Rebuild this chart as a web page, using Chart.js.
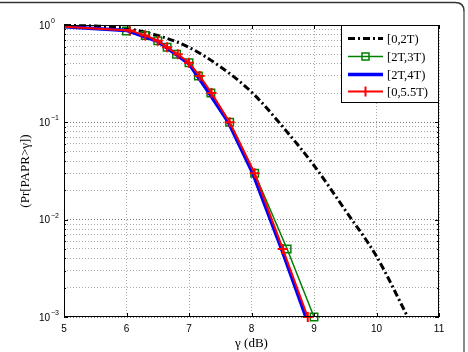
<!DOCTYPE html>
<html lang="en">
<head>
    <meta charset="UTF-8">
    <title>PAPR CCDF</title>
    <script src="https://cdn.jsdelivr.net/npm/chart.js"></script>
    <style>
        body { margin: 0; padding: 0; background: #fff; overflow: hidden; }
        .wrap { width: 468px; height: 352px; }
    </style>
</head>
<body>
<div class="wrap">
    <canvas id="papr" width="468" height="352"></canvas>
</div>
<script>
    // curves
    const labels = ['[0,2T)', '[2T,3T)', '[2T,4T)', '[0,5.5T)'];

    const x02 = [5, 5.5, 6, 6.5, 7, 7.5, 8, 8.5, 9, 9.5, 10, 10.5];
    const y02 = [0.99, 0.975, 0.92, 0.78, 0.59, 0.373, 0.205, 0.09, 0.036, 0.0125, 0.0042, 0.001];

    const x23 = [5, 6, 6.3, 6.5, 6.65, 6.8, 7, 7.15, 7.35, 7.65, 8.05, 8.57, 9.0];
    const y23 = [0.96, 0.87, 0.78, 0.69, 0.59, 0.5, 0.41, 0.3, 0.2, 0.1, 0.03, 0.005, 0.001];

    const x24 = [5, 6, 6.5, 7, 7.3, 7.63, 8.02, 8.48, 8.87];
    const y24 = [0.96, 0.88, 0.68, 0.4, 0.21, 0.1, 0.03, 0.005, 0.001];

    const x055 = [5, 6.05, 6.3, 6.5, 6.65, 6.82, 7, 7.17, 7.36, 7.65, 8.05, 8.5, 8.9];
    const y055 = [0.96, 0.88, 0.78, 0.69, 0.59, 0.5, 0.41, 0.3, 0.2, 0.1, 0.03, 0.005, 0.001];

    const xTicks = [5, 6, 7, 8, 9, 10, 11];
    const yDecades = [1, 0.1, 0.01, 0.001];
    const yExp = ['0', '\u22121', '\u22122', '\u22123'];
    const yTicks = [];
    [0.001, 0.01, 0.1].forEach(d => { for (let k = 1; k < 10; k++) yTicks.push(+(k * d).toPrecision(3)); });
    yTicks.push(1);

    const pts = (xs, ys) => xs.map((x, i) => ({ x: x, y: ys[i] }));
    const noFirst = (n, r) => Array.from({ length: n }, (_, i) => i === 0 ? 0 : r);

    const sans = '"Liberation Sans", Arial, sans-serif';
    const serif = '"Liberation Serif", "Times New Roman", serif';

    const frameAndText = {
        id: 'frameAndText',
        beforeDraw(chart) {
            // outer figure frame (top + rounded right edge)
            const c = chart.ctx;
            c.save();
            c.lineWidth = 1.5;
            c.strokeStyle = '#333';
            c.beginPath();
            c.moveTo(0, 2.5); c.lineTo(455, 2.5);
            c.quadraticCurveTo(464, 2.5, 464, 11);
            c.stroke();
            c.strokeStyle = '#8a8a8a';
            c.lineWidth = 2;
            c.beginPath();
            c.moveTo(464, 11); c.lineTo(464, 352);
            c.stroke();
            c.restore();
        },
        afterDraw(chart) {
            const c = chart.ctx, a = chart.chartArea;
            const xs = chart.scales.x, ys = chart.scales.y;
            c.save();
            // axes box
            c.strokeStyle = '#000';
            c.lineWidth = 1;
            c.strokeRect(a.left + 0.5, a.top + 0.5, a.right - a.left - 1, a.bottom - a.top - 1);
            // inward ticks
            c.beginPath();
            xTicks.forEach(v => {
                const px = Math.round(xs.getPixelForValue(v)) + 0.5;
                c.moveTo(px, a.bottom); c.lineTo(px, a.bottom - 4);
                c.moveTo(px, a.top); c.lineTo(px, a.top + 4);
            });
            yTicks.forEach(v => {
                const py = Math.round(ys.getPixelForValue(v)) + 0.5;
                const len = yDecades.includes(v) ? 4 : 2;
                c.moveTo(a.left, py); c.lineTo(a.left + len, py);
                c.moveTo(a.right, py); c.lineTo(a.right - len, py);
            });
            c.stroke();
            // y tick labels 10^n
            c.fillStyle = '#000';
            c.textBaseline = 'middle';
            yDecades.forEach((v, i) => {
                const py = ys.getPixelForValue(v) + 1;
                c.font = '10px ' + sans;
                c.textAlign = 'right';
                c.fillText('10', 50, py);
                c.font = '7px ' + sans;
                c.textAlign = 'left';
                c.fillText(yExp[i], 51, py - 5);
            });
            // axis titles
            c.font = '13px ' + serif;
            c.textAlign = 'center';
            c.fillText('\u03b3 (dB)', (a.left + a.right) / 2, 344);
            c.translate(26, (a.top + a.bottom) / 2);
            c.rotate(-Math.PI / 2);
            c.fillText('(Pr[PAPR>\u03b3])', 0, 0);
            c.restore();

            // legend box inside the axes
            c.save();
            const lx = 341, ly = a.top, lw = a.right - lx, lh = 78;
            c.fillStyle = '#fff';
            c.fillRect(lx, ly, lw, lh);
            c.strokeStyle = '#000';
            c.lineWidth = 1;
            c.strokeRect(lx + 0.5, ly + 0.5, lw - 1, lh - 1);
            const rows = [38.5, 56.5, 74.5, 91.5];
            chart.data.datasets.forEach((ds, i) => {
                const y = rows[i];
                c.strokeStyle = ds.borderColor;
                c.lineWidth = ds.borderWidth;
                c.setLineDash(ds.borderDash || []);
                c.beginPath();
                c.moveTo(348, y); c.lineTo(383, y);
                c.stroke();
                c.setLineDash([]);
                if (ds.pointStyle === 'rect') {
                    c.lineWidth = 1.5;
                    c.strokeRect(362, y - 3.5, 7, 7);
                } else if (ds.pointStyle === 'cross') {
                    c.lineWidth = 2;
                    c.beginPath();
                    c.moveTo(365.5, y - 5); c.lineTo(365.5, y + 5);
                    c.stroke();
                }
                c.fillStyle = '#000';
                c.font = '12.5px ' + serif;
                c.textAlign = 'left';
                c.textBaseline = 'middle';
                c.fillText(ds.label, 387, y + 1);
            });
            c.restore();
        }
    };

    new Chart(document.getElementById('papr'), {
        type: 'line',
        data: {
            datasets: [
                { label: labels[0], data: pts(x02, y02), borderColor: '#000', borderWidth: 3, borderDash: [7, 3, 2, 3], pointRadius: 0, cubicInterpolationMode: 'monotone', order: 4 },
                { label: labels[1], data: pts(x23, y23), borderColor: '#008000', borderWidth: 1.5, pointStyle: 'rect', pointRadius: noFirst(x23.length, 5.3), pointBorderWidth: 1.5, pointBorderColor: '#008000', pointBackgroundColor: 'rgba(0,0,0,0)', order: 3 },
                { label: labels[2], data: pts(x24, y24), borderColor: '#0000ff', borderWidth: 3.5, pointRadius: 0, order: 2 },
                { label: labels[3], data: pts(x055, y055), borderColor: '#ff0000', borderWidth: 2, pointStyle: 'cross', pointRadius: noFirst(x055.length, 5), pointBorderWidth: 2, pointBorderColor: '#ff0000', order: 1 }
            ]
        },
        options: {
            responsive: false,
            animation: false,
            clip: false,
            layout: { padding: { top: 25, right: 29, left: 0, bottom: 0 } },
            plugins: { legend: { display: false }, tooltip: { enabled: false } },
            scales: {
                x: {
                    type: 'linear', min: 5, max: 11,
                    afterBuildTicks: s => { s.ticks = xTicks.map(v => ({ value: v })); },
                    afterFit: s => { s.height = 35; },
                    ticks: { color: '#000', padding: 6, font: { family: sans, size: 10 } },
                    grid: { color: '#aaa', lineWidth: 1, drawTicks: false },
                    border: { display: false, dash: [1, 2] }
                },
                y: {
                    type: 'logarithmic', min: 0.001, max: 1,
                    afterBuildTicks: s => { s.ticks = yTicks.map(v => ({ value: v })); },
                    afterFit: s => { s.width = 64; },
                    ticks: { display: false },
                    grid: { color: ctx => (ctx.tick && yDecades.includes(ctx.tick.value)) ? '#777' : '#aaa', lineWidth: 1, drawTicks: false },
                    border: { display: false, dash: [1, 2] }
                }
            }
        },
        plugins: [frameAndText]
    });
</script>
</body>
</html>
